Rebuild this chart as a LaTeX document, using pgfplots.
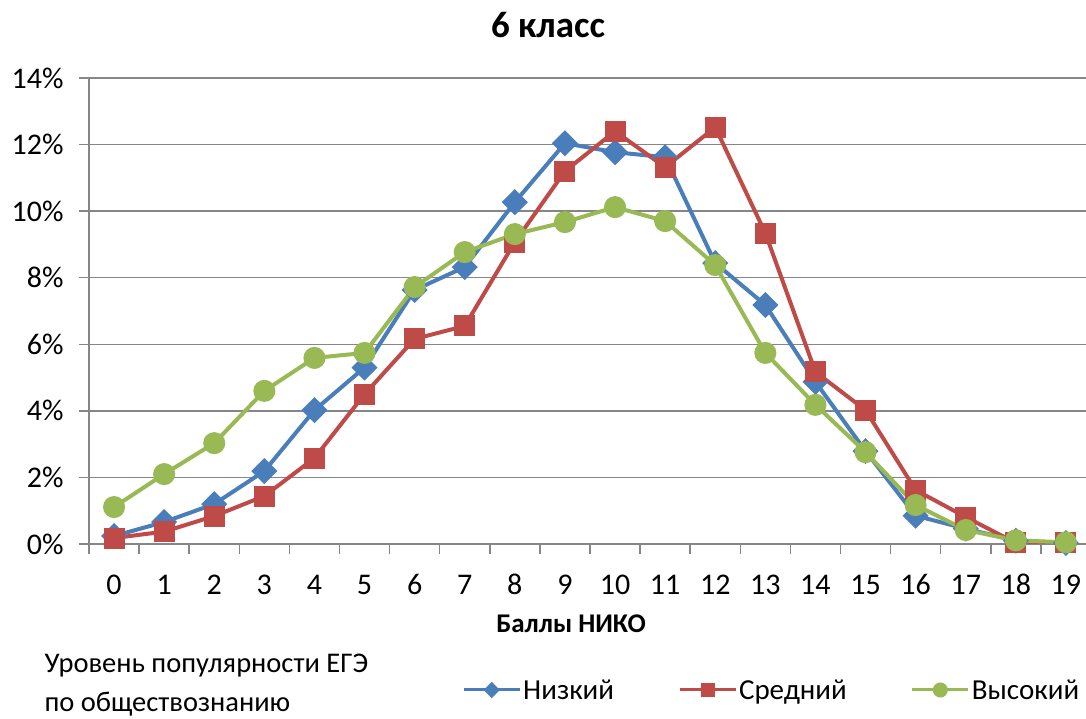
\documentclass[border=0pt]{standalone}
\usepackage{fontspec}
\setmainfont{Carlito}
\usepackage{pgfplots}
\pgfplotsset{compat=1.18}
\definecolor{cblue}{HTML}{4A7EBB}
\definecolor{cred}{HTML}{BE4B48}
\definecolor{cgreen}{HTML}{98B954}
\definecolor{cgrid}{HTML}{868686}
\begin{document}
\begin{tikzpicture}[x=1pt,y=1pt]
\begin{axis}[
 at={(89pt,175pt)}, anchor=south west,
 width=1002pt, height=466pt, scale only axis,
 xmin=-0.5, xmax=19.5, ymin=0, ymax=14,
 axis x line*=bottom, axis y line*=left,
 axis line style={-, draw=cgrid, line width=1.5pt},
 ymajorgrids, grid style={cgrid, line width=1.5pt},
 ytick={0,2,...,14},
 xtick={-0.5,0.5,...,19.5},
 x tick label as interval,
 xticklabels={0,1,2,3,4,5,6,7,8,9,10,11,12,13,14,15,16,17,18,19},
 tick align=outside,
 major tick length=10pt,
 tick style={cgrid, line width=1.5pt},
 yticklabel={\pgfmathprintnumber{\tick}\%},
 /pgf/number format/assume math mode=true,
 yticklabel style={font=\fontsize{30}{36}\selectfont, text=black, xshift=-12pt},
 xticklabel style={font=\fontsize{30}{36}\selectfont, text=black, anchor=base, yshift=-41pt},
 legend columns=3,
 legend style={at={(0.3723,-0.3133)}, anchor=west, draw=none, fill=none, inner sep=0pt,
   font=\fontsize{29}{34}\selectfont,
   nodes={inner xsep=2pt},
   /tikz/every even column/.append style={column sep=62pt}},
 legend image code/.code={\draw[#1, mark repeat=2, mark phase=2] plot coordinates {(0pt,0pt) (28pt,0pt) (56pt,0pt)};},
]
\addlegendimage{cblue, line width=3pt, mark=square*, mark size=4.3pt, mark options={rotate=45, solid}}
\addlegendentry{Низкий}
\addlegendimage{cred, line width=3pt, mark=square*, mark size=5.5pt}
\addlegendentry{Средний}
\addlegendimage{cgreen, line width=3pt, mark=*, mark size=6pt}
\addlegendentry{Высокий}
\addplot[forget plot, cblue, line width=4pt, mark=square*, mark size=7.2pt, mark options={rotate=45, solid}] coordinates {
(0,0.24) (1,0.66) (2,1.2) (3,2.19) (4,4.02) (5,5.3) (6,7.63) (7,8.32) (8,10.27) (9,12.04)
(10,11.77) (11,11.62) (12,8.44) (13,7.18) (14,4.87) (15,2.79) (16,0.85) (17,0.46) (18,0.1) (19,0.03)};
\addplot[forget plot, cred, line width=4pt, mark=square*, mark size=8.5pt] coordinates {
(0,0.18) (1,0.37) (2,0.84) (3,1.44) (4,2.58) (5,4.5) (6,6.16) (7,6.55) (8,9.07) (9,11.2)
(10,12.4) (11,11.32) (12,12.52) (13,9.34) (14,5.17) (15,4.02) (16,1.62) (17,0.81) (18,0.03) (19,0.03)};
\addplot[forget plot, cgreen, line width=4pt, mark=*, mark size=9pt] coordinates {
(0,1.11) (1,2.1) (2,3.03) (3,4.6) (4,5.59) (5,5.74) (6,7.72) (7,8.77) (8,9.31) (9,9.67)
(10,10.12) (11,9.7) (12,8.38) (13,5.74) (14,4.18) (15,2.76) (16,1.17) (17,0.42) (18,0.11) (19,0.05)};
\end{axis}
\node[anchor=base, font=\fontsize{37}{44}\selectfont\bfseries] at (548pt,681pt) {6 класс};
\node[anchor=base, font=\fontsize{27}{32}\selectfont\bfseries] at (571pt,86pt) {Баллы НИКО};
\node[anchor=base west, font=\fontsize{28.5}{34}\selectfont] at (41pt,46pt) {Уровень популярности ЕГЭ};
\node[anchor=base west, font=\fontsize{28.5}{34}\selectfont] at (41pt,7pt) {по обществознанию};
\pgfresetboundingbox
\useasboundingbox (0pt,0pt) rectangle (1086pt,719pt);
\end{tikzpicture}
\end{document}
